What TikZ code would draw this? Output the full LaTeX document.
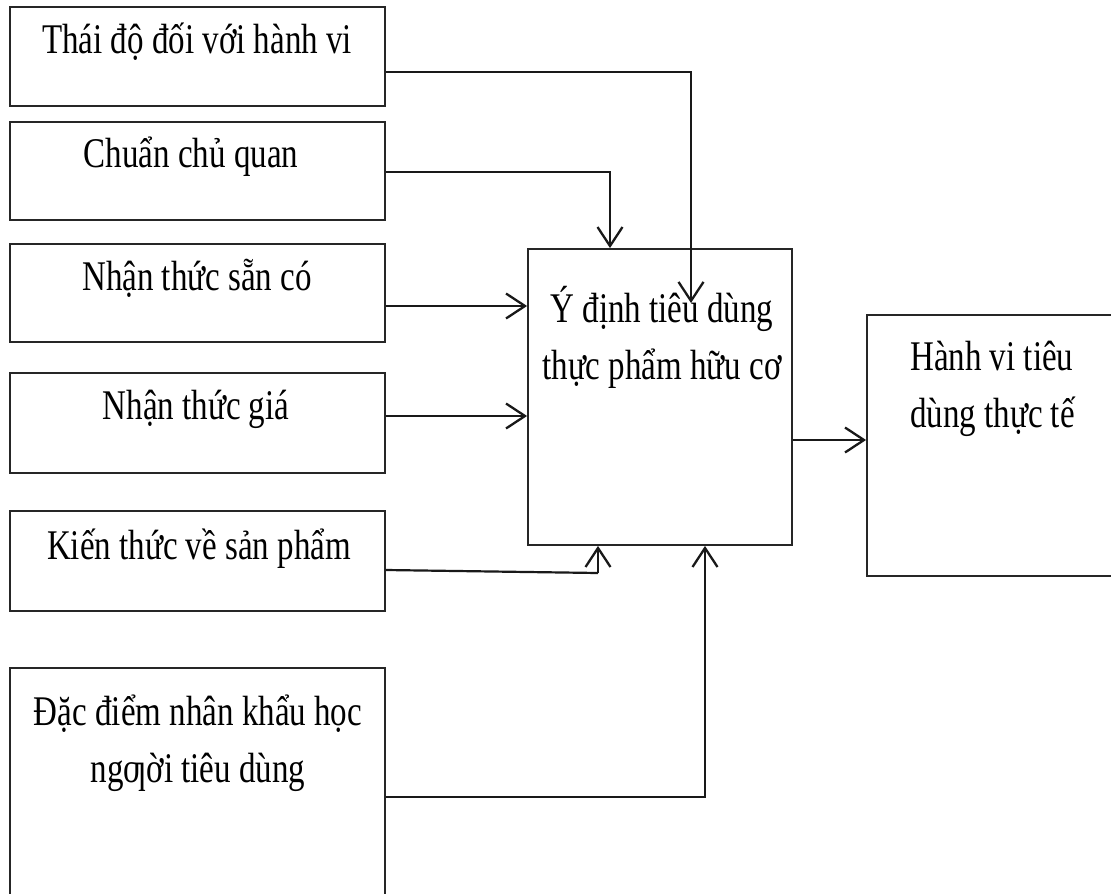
\documentclass[tikz,border=0pt]{standalone}
\usepackage{fontspec}
\setmainfont{Liberation Serif}
\usetikzlibrary{arrows.meta}
% tall, narrow lettering: every label is stretched vertically
\newcommand{\tallbox}[2][c]{\scalebox{1}[1.28]{\fontsize{33}{45}\selectfont
  \begin{tabular}[t]{@{}#1@{}}#2\end{tabular}}}
\begin{document}
\begin{tikzpicture}[x=1pt,y=-1pt,
  box/.style={draw=black!85,line width=1.8pt,inner sep=0pt},
  lbl/.style={inner sep=0pt,anchor=base},
  link/.style={draw=black!90,line width=2.2pt},
  arr/.style={link,-{Straight Barb[length=19pt,width=25pt,line width=2.3pt]}}]
\useasboundingbox (0,0) rectangle (1111,894);
% input boxes on the left
\node[box,minimum width=375pt,minimum height=99pt] (b1) at (197.5,56.5) {};
\node[box,minimum width=375pt,minimum height=98pt] (b2) at (197.5,171) {};
\node[box,minimum width=375pt,minimum height=98pt] (b3) at (197.5,293) {};
\node[box,minimum width=375pt,minimum height=100pt] (b4) at (197.5,423) {};
\node[box,minimum width=375pt,minimum height=100pt] (b5) at (197.5,561) {};
\node[box,minimum width=375pt,minimum height=260pt] (b6) at (197.5,798) {};
% intention and behaviour boxes
\node[box,minimum width=264pt,minimum height=296pt] (mid) at (660,397) {};
\node[box,minimum width=260pt,minimum height=261pt] (out) at (997,445.5) {};
% labels (placed on their first baseline)
\node[lbl] (t1) at (197,53) {\tallbox{Thái độ đối với hành vi}};
\node[lbl] (t2) at (191,167) {\tallbox{Chuẩn chủ quan}};
\node[lbl] (t3) at (197,290) {\tallbox{Nhận thức sẵn có}};
\node[lbl] (t4) at (196,419) {\tallbox{Nhận thức giá}};
\node[lbl] (t5) at (199,559) {\tallbox{Kiến thức về sản phẩm}};
\node[lbl] (t6) at (198,725) {\tallbox{Đặc điểm nhân khẩu học\\ngƣời tiêu dùng}};
\node[lbl] (tm) at (662,322) {\tallbox{Ý định tiêu dùng\\thực phẩm hữu cơ}};
\node[lbl,anchor=base west] (to) at (910,370) {\tallbox[l]{Hành vi tiêu\\dùng thực tế}};
% connectors
\coordinate (e1) at (691,303);
\coordinate (c5) at (598,573);
\draw[arr] (b1.east |- 0,72) -| (e1);
\draw[arr] (b2.east |- 0,172) -| (mid.north -| 610,0);
\draw[arr] (b3.east |- 0,306) -- (mid.west |- 0,306);
\draw[arr] (b4.east |- 0,416) -- (mid.west |- 0,416);
\draw[link] (b5.east |- 0,570) -- (c5);
\draw[arr] (c5) -- (mid.south -| c5);
\draw[arr] (b6.east |- 0,797) -| (mid.south -| 705,0);
\draw[arr] (mid.east |- 0,440) -- (out.west |- 0,440);
\end{tikzpicture}
\end{document}
